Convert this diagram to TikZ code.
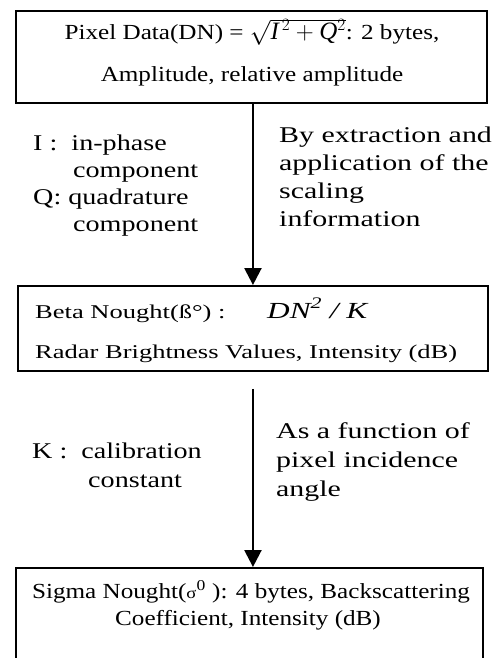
\documentclass[tikz,border=0pt]{standalone}
\usepackage{amsmath}
\usepackage{fontspec}
\setmainfont{Liberation Serif}
\newfontfamily\boxfont[FakeStretch=1.17]{Liberation Serif}
\newfontfamily\betafont[FakeStretch=1.36]{Liberation Serif}
\newfontfamily\notefont[FakeStretch=1.25]{Liberation Serif}
\newfontfamily\sidefont[FakeStretch=1.33]{Liberation Serif}
\usetikzlibrary{arrows.meta,positioning}

\tikzset{
	databox/.style={draw, line width=1.9pt, inner sep=0pt, anchor=north west},
	boxtext/.style={inner sep=0pt, anchor=base, font=\boxfont\fontsize{21.5}{26}\selectfont},
	betatext/.style={inner sep=0pt, anchor=base west, font=\betafont\fontsize{19.5}{24}\selectfont},
	note/.style={inner sep=0pt, anchor=base west, align=left, font=\notefont\fontsize{22.5}{27}\selectfont},
	flow/.style={line width=2.4pt, -{Triangle[length=17pt,width=17pt]}}
}

\begin{document}
\begin{tikzpicture}[x=1pt,y=-1pt]
	\useasboundingbox (0,0) rectangle (491,658); % scan frame

	% the three boxes
	\node[databox, line width=2.4pt, minimum width=471pt, minimum height=92pt] (pixel) at (15,10) {};
	\node[databox, minimum width=470pt, minimum height=85pt] (beta) at (17,285) {};
	\node[databox, minimum width=467pt, minimum height=120pt] (sigma) at (15,567) {}; % runs off the bottom

	% box texts
	\node[boxtext] (pixeltxt) at (252,40) {Pixel Data(DN) = {\fontsize{25}{25}\selectfont$\sqrt{\smash[t]{\mathit{I}^{\,2}+\mathit{Q}^{2}}\vphantom{Q}}$}: 2 bytes,};
	\node[boxtext] (amptxt) at (252,82) {Amplitude, relative amplitude};
	\node[betatext] (betatxt) at (35,318) {Beta Nought(ß°) :};
	\node[betatext, font=\betafont\itshape\fontsize{23}{24}\selectfont] (dnktxt) at (267,318) {DN\textsuperscript{2} / K};
	\node[betatext] (radartxt) at (35,358) {Radar Brightness Values, Intensity (dB)};
	\node[boxtext] (sigmatxt) at (251,598) {Sigma Nought({\fontsize{16}{16}\selectfont σ}\textsuperscript{0} ): 4 bytes, Backscattering};
	\node[boxtext] (coefftxt) at (248,625) {Coefficient, Intensity (dB)};

	% side notes (base = last line)
	\node[note] (iqnote) at (33,231) {I :\ \ in-phase\\\hspace*{40pt}component\\Q: quadrature\\\hspace*{40pt}component};
	\node[note, font=\sidefont\fontsize{22.5}{28}\selectfont] (scalenote) at (279,226) {By extraction and\\application of the\\scaling\\information};
	\node[note, font=\notefont\fontsize{22.5}{29}\selectfont] (knote) at (32,487) {K :\ \ calibration\\\hspace*{56pt}constant};
	\node[note, font=\sidefont\fontsize{22.5}{29}\selectfont] (anglenote) at (276,496) {As a function of\\pixel incidence\\angle};

	% arrows
	\coordinate[below=17pt of beta.south] (gap);
	\draw[flow] (beta.north |- pixel.south) -- (beta.north);
	\draw[flow] (gap) -- (gap |- sigma.north);
\end{tikzpicture}
\end{document}
